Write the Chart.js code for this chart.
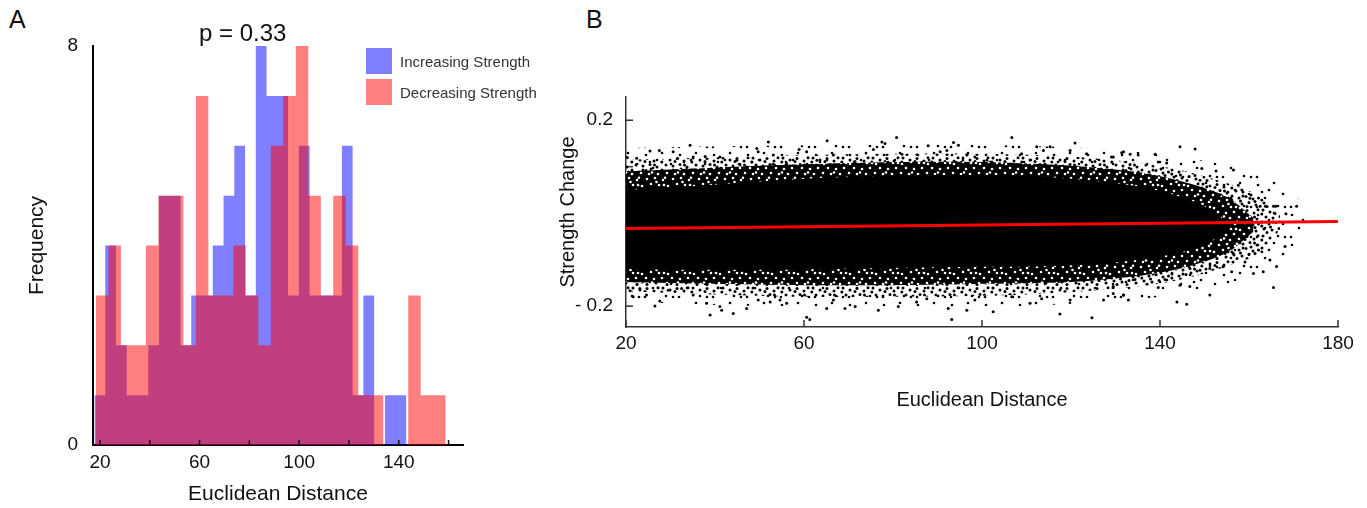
<!DOCTYPE html>
<html>
<head>
<meta charset="utf-8">
<title>Strength change vs Euclidean distance</title>
<script src="https://cdn.jsdelivr.net/npm/chart.js@4.4.1/dist/chart.umd.min.js"></script>
<style>
  html, body { margin: 0; padding: 0; background: #fff; }
  body { position: relative; width: 1367px; height: 508px; overflow: hidden;
         font-family: 'Liberation Sans', Arial, sans-serif; color: #111; }
  .tag { position: absolute; font-size: 25px; line-height: 25px; }
  #histBox { position: absolute; left: 0; top: 0; width: 540px; height: 508px; }
  #scatterBox { position: absolute; left: 540px; top: 0; width: 827px; height: 508px; }
  #pValue { position: absolute; left: 199px; top: 21px; font-size: 24px; line-height: 24px; }
  #histLegend { position: absolute; left: 366px; top: 48px; }
  .legend-item { display: flex; align-items: center; height: 26px; margin-bottom: 5px;
                 font-size: 15px; color: #333; }
  .legend-swatch { width: 26px; height: 26px; margin-right: 8px; }
</style>
</head>
<body>
<div class="tag" style="left:9px; top:7px;">A</div>
<div class="tag" style="left:586px; top:7px;">B</div>
<div id="histBox"><canvas id="hist" width="540" height="508"></canvas></div>
<div id="scatterBox"><canvas id="scatter" width="827" height="508"></canvas></div>
<div id="pValue">p = 0.33</div>
<div id="histLegend"></div>
<script>
// ---- panel A: histograms (bin edges) ----
const incLabel = 'Increasing Strength';
const decLabel = 'Decreasing Strength';
const incEdges = [17.79, 22.11, 26.43, 30.75, 35.07, 39.39, 43.71, 48.03, 52.35, 56.67,
                  60.99, 65.31, 69.63, 73.95, 78.27, 82.59, 86.91, 91.23, 95.55, 99.87,
                  104.19, 108.51, 112.83, 117.15, 121.47, 125.79, 130.11, 134.43, 138.75, 143.07];
const incCounts = [1, 4, 2, 1, 1, 2, 5, 5, 2, 3,
                   3, 4, 5, 6, 3, 8, 7, 7, 3, 6,
                   3, 3, 3, 6, 1, 3, 0, 1, 1];
const decEdges = [18.39, 23.41, 28.42, 33.44, 38.45, 43.47, 48.49, 53.50, 58.52, 63.53,
                  68.55, 73.57, 78.58, 83.60, 88.61, 93.63, 98.65, 103.66, 108.68, 113.69,
                  118.71, 123.73, 128.74, 133.76, 138.77, 143.79, 148.81, 153.82, 158.84];
const decCounts = [3, 4, 2, 2, 4, 5, 5, 2, 7, 3,
                   3, 4, 3, 2, 6, 7, 8, 5, 3, 5,
                   4, 1, 1, 0, 0, 3, 1, 1];
const histXTicks = [20, 40, 60, 80, 100, 120, 140, 160];
const histXLabels = ['20', '', '60', '', '100', '', '140', ''];
const histYTicks = [0, 8];

// ---- panel B: strength change vs distance ----
const scatterXTicks = [20, 60, 100, 140, 180];
const scatterYTicks = [-0.2, -0.1, 0, 0.1, 0.2];
const scatterYLabels = ['- 0.2', '', '', '', '0.2'];
const fitX = [20, 180];
const fitY = [-0.033, -0.018];

// solid core of the point cloud (upper / lower edge)
const coreX = [20, 35, 50, 65, 80, 95, 110, 125, 135, 143, 150, 156];
const coreTop = [0.050, 0.058, 0.068, 0.076, 0.080, 0.082, 0.080, 0.070, 0.058, 0.040, 0.015, -0.025];
const coreBottom = [-0.120, -0.122, -0.122, -0.120, -0.118, -0.116, -0.115, -0.110, -0.100, -0.088, -0.068, -0.030];
// nearly black zone with small gaps
const packedX = [20, 40, 60, 80, 100, 120, 135, 145, 155, 161];
const packedTop = [0.090, 0.098, 0.105, 0.110, 0.110, 0.102, 0.088, 0.068, 0.035, -0.010];
const packedBottom = [-0.148, -0.152, -0.155, -0.155, -0.152, -0.148, -0.135, -0.118, -0.085, -0.040];
// dense speckled rim
const denseX = [20, 40, 60, 80, 100, 120, 135, 145, 155, 162, 167];
const denseTop = [0.115, 0.120, 0.125, 0.128, 0.128, 0.122, 0.108, 0.092, 0.065, 0.038, -0.005];
const denseBottom = [-0.168, -0.175, -0.180, -0.180, -0.178, -0.170, -0.158, -0.142, -0.115, -0.088, -0.035];
// thin outer rim
const sparseX = [20, 50, 80, 110, 135, 150, 160, 168, 173];
const sparseTop = [0.140, 0.145, 0.148, 0.145, 0.132, 0.112, 0.092, 0.058, 0.012];
const sparseBottom = [-0.190, -0.200, -0.203, -0.200, -0.185, -0.165, -0.135, -0.098, -0.032];
// isolated points outside the cloud
const strayPoints = [
  [20.3, 0.120], [22.4, 0.118], [25.4, 0.134], [27.5, 0.135], [30.6, 0.132], [31.6, 0.118], [34.4, 0.146],
  [35.1, 0.121], [37.8, 0.122], [41.1, 0.121], [44.9, 0.114], [49.4, 0.139], [49.7, 0.132], [52.0, 0.153],
  [53.1, 0.125], [56.1, 0.107], [58.9, 0.137], [60.6, 0.132], [62.9, 0.114], [65.2, 0.156], [66.6, 0.125],
  [20.9, -0.167], [21.6, -0.180], [23.1, -0.162], [24.6, -0.176], [26.5, -0.200], [27.6, -0.189],
  [29.5, -0.166], [32.5, -0.162], [35.1, -0.176], [38.1, -0.194], [38.9, -0.219], [41.1, -0.201],
  [41.5, -0.209], [44.1, -0.216], [47.1, -0.205], [49.7, -0.187], [52.4, -0.191], [54.6, -0.187],
  [56.1, -0.194], [60.6, -0.224], [61.3, -0.229], [65.1, -0.205], [66.6, -0.187],
  [75.6, 0.137], [77.5, 0.153], [78.2, 0.150], [80.8, 0.163], [82.0, 0.127], [87.9, 0.145], [90.6, 0.132],
  [92.1, 0.135], [93.6, 0.152], [94.7, 0.146], [96.6, 0.125], [98.4, 0.121], [101.1, 0.114], [106.7, 0.163],
  [108.9, 0.128], [112.3, 0.143], [113.8, 0.135], [115.3, 0.143], [119.8, 0.135], [120.9, 0.151],
  [123.5, 0.128], [129.1, 0.121], [131.8, 0.132],
  [69.2, -0.205], [71.5, -0.201], [76.7, -0.209], [81.2, -0.201], [85.3, -0.191], [87.6, -0.184],
  [92.4, -0.205], [93.2, -0.229], [96.6, -0.209], [98.4, -0.187], [102.5, -0.212], [106.7, -0.180],
  [110.8, -0.194], [113.4, -0.184], [117.5, -0.217], [119.8, -0.187], [124.7, -0.225], [127.3, -0.187],
  [129.5, -0.158], [131.8, -0.176],
  [129.5, 0.121], [131.4, 0.130], [133.3, 0.127], [135.1, 0.125], [138.9, 0.127], [139.6, 0.110],
  [141.5, 0.108], [144.5, 0.143], [147.9, 0.138], [149.4, 0.096], [152.6, 0.091], [156.5, 0.093],
  [149.0, 0.071], [150.5, 0.057], [153.5, 0.039], [157.6, 0.060], [158.4, 0.050], [160.2, 0.032],
  [162.5, 0.015], [163.7, 0.015], [165.5, 0.015], [166.0, 0.015], [170.7, 0.015], [168.3, -0.001],
  [129.5, -0.173], [131.8, -0.176], [132.9, -0.187], [139.6, -0.160], [143.8, -0.191], [144.5, -0.155],
  [146.0, -0.196], [146.7, -0.158], [149.0, -0.123], [151.2, -0.176], [151.2, -0.119], [154.2, -0.115],
  [156.1, -0.126], [156.5, -0.087], [159.1, -0.105], [161.0, -0.130], [163.2, -0.126], [164.7, -0.101],
  [165.5, -0.160], [166.2, -0.115], [168.1, -0.072]
];

const fontFamily = "'Liberation Sans', Arial, sans-serif";
Chart.defaults.font.family = fontFamily;
Chart.defaults.color = '#111';

// small tick marks pointing into the plot area
function drawInnerTicks(chart, opts) {
    const ctx = chart.ctx;
    ctx.save();
    ctx.strokeStyle = opts.color;
    ctx.lineWidth = opts.width;
    opts.axes.forEach(id => {
        const scale = chart.scales[id];
        scale.ticks.forEach(t => {
            const p = scale.getPixelForValue(t.value);
            ctx.beginPath();
            if (scale.isHorizontal()) {
                ctx.moveTo(p, scale.top);
                ctx.lineTo(p, scale.top - opts.length);
            } else {
                ctx.moveTo(scale.right, p);
                ctx.lineTo(scale.right + opts.length, p);
            }
            ctx.stroke();
        });
    });
    ctx.restore();
}

const innerTicks = {
    id: 'innerTicks',
    beforeDatasetsDraw(chart, args, opts) { if (opts.under) drawInnerTicks(chart, opts); },
    afterDatasetsDraw(chart, args, opts) { if (!opts.under) drawInnerTicks(chart, opts); }
};

const fixedTicks = values => scale => { scale.ticks = values.map(v => ({ value: v })); };

// a histogram as one filled step outline: count i holds from edge i to edge i+1
function histSteps(edges, counts) {
    return edges.map((x, i) => ({ x, y: counts[Math.min(i, counts.length - 1)] }));
}

// ---- Histogram ----
const histChart = new Chart(document.getElementById('hist'), {
    type: 'line',
    data: {
        datasets: [
            {
                label: incLabel,
                data: histSteps(incEdges, incCounts),
                backgroundColor: 'rgba(0, 0, 255, 0.5)',
                order: 2
            },
            {
                label: decLabel,
                data: histSteps(decEdges, decCounts),
                backgroundColor: 'rgba(255, 0, 0, 0.5)',
                order: 1
            }
        ]
    },
    options: {
        responsive: false,
        animation: false,
        datasets: {
            line: {
                stepped: 'before',
                fill: 'origin',
                borderColor: 'rgba(0, 0, 0, 0)',
                borderWidth: 0,
                pointRadius: 0,
                pointHoverRadius: 0
            }
        },
        layout: { padding: { left: 0, right: 77, top: 46, bottom: 0 } },
        plugins: {
            legend: { display: false },
            tooltip: { enabled: false },
            innerTicks: { axes: ['x'], length: 5, width: 1.5, color: '#111', under: false }
        },
        scales: {
            x: {
                type: 'linear', min: 17.2, max: 165.8,
                afterBuildTicks: fixedTicks(histXTicks),
                afterFit: s => { s.height = 63; },
                grid: { display: false, drawTicks: false },
                border: { color: '#000', width: 2 },
                ticks: {
                    padding: 6, autoSkip: false, maxRotation: 0,
                    font: { size: 19 },
                    callback: (v, i) => histXLabels[i]
                },
                title: { display: true, text: 'Euclidean Distance', font: { size: 21 }, padding: { top: 0, bottom: 1 } }
            },
            y: {
                min: 0, max: 8,
                afterBuildTicks: fixedTicks(histYTicks),
                afterFit: s => { s.width = 93; },
                grid: { display: false, drawTicks: false },
                border: { color: '#000', width: 2 },
                ticks: { padding: 15, font: { size: 19 } },
                title: { display: true, text: 'Frequency', font: { size: 21 }, padding: { top: 25, bottom: 0 } }
            }
        }
    },
    plugins: [innerTicks]
});

// legend built from the histogram datasets
const legendBox = document.getElementById('histLegend');
histChart.data.datasets.forEach(ds => {
    const item = document.createElement('div');
    item.className = 'legend-item';
    const swatch = document.createElement('span');
    swatch.className = 'legend-swatch';
    swatch.style.background = ds.backgroundColor;
    const text = document.createElement('span');
    text.textContent = ds.label;
    item.append(swatch, text);
    legendBox.appendChild(item);
});

// ---- Scatter ----
const scatterCanvas = document.getElementById('scatter');

// dotted fills used for the speckled zones of the cloud
function dotPattern(w, h, dots, r, dotColor, bgColor) {
    const tile = document.createElement('canvas');
    tile.width = w;
    tile.height = h;
    const g = tile.getContext('2d');
    if (bgColor) {
        g.fillStyle = bgColor;
        g.fillRect(0, 0, w, h);
    }
    g.fillStyle = dotColor;
    dots.forEach(([x, y]) => {
        g.beginPath();
        g.arc(x, y, r, 0, Math.PI * 2);
        g.fill();
    });
    return scatterCanvas.getContext('2d').createPattern(tile, 'repeat');
}

const packedPattern = dotPattern(26, 22, [
    [3, 3], [11, 2], [19, 4], [24, 10], [7, 8], [15, 9], [2, 14], [10, 15], [18, 14], [23, 19],
    [5, 20], [14, 20], [21, 1.8], [12.5, 6], [8, 18.5], [20, 9]
], 1.3, '#fff', '#000');
const densePattern = dotPattern(30, 26, [
    [3, 2], [10, 4], [17, 2.5], [24, 5], [28, 1.8], [6, 9], [13, 10], [20, 8.5], [27, 11], [2, 14],
    [9, 16], [16, 14.5], [23, 17], [4, 21], [12, 22], [19, 20.5], [26, 23], [28.5, 16], [7, 24.5],
    [15, 5.5], [21, 13], [1.8, 6], [10.5, 19], [25, 19.5], [17, 24.5], [1.8, 18], [13, 14], [24.5, 9]
], 1.5, '#000');
const sparsePattern = dotPattern(34, 30, [
    [4, 5], [20, 3], [29, 14], [11, 18], [24, 26], [3, 27], [15, 10], [31, 27], [8, 12]
], 1.3, '#000');

function edge(xs, ys, fill, color) {
    return {
        type: 'line',
        data: xs.map((x, i) => ({ x, y: ys[i] })),
        borderColor: 'rgba(0, 0, 0, 0)',
        borderWidth: 0,
        pointRadius: 0,
        tension: 0.3,
        fill: fill,
        backgroundColor: color
    };
}

new Chart(scatterCanvas, {
    type: 'scatter',
    data: {
        datasets: [
            {
                type: 'line',
                data: fitX.map((x, i) => ({ x, y: fitY[i] })),
                borderColor: '#ff0000',
                borderWidth: 3,
                pointRadius: 0,
                fill: false
            },
            {
                type: 'scatter',
                data: strayPoints.map(([x, y]) => ({ x, y })),
                pointRadius: 1.5,
                pointHoverRadius: 1.5,
                pointBackgroundColor: '#000',
                pointBorderWidth: 0
            },
            edge(coreX, coreTop, false),
            edge(coreX, coreBottom, '-1', '#000'),
            edge(packedX, packedTop, false),
            edge(packedX, packedBottom, '-1', packedPattern),
            edge(denseX, denseTop, false),
            edge(denseX, denseBottom, '-1', densePattern),
            edge(sparseX, sparseTop, false),
            edge(sparseX, sparseBottom, '-1', sparsePattern)
        ]
    },
    options: {
        responsive: false,
        animation: false,
        layout: { padding: { left: 0, right: 29, top: 97, bottom: 0 } },
        plugins: {
            legend: { display: false },
            tooltip: { enabled: false },
            innerTicks: { axes: ['x', 'y'], length: 7, width: 1.5, color: '#333', under: true }
        },
        scales: {
            x: {
                type: 'linear', min: 20, max: 180,
                afterBuildTicks: fixedTicks(scatterXTicks),
                afterFit: s => { s.height = 181; },
                grid: { display: false, drawTicks: false },
                border: { color: '#333', width: 1.5 },
                ticks: { padding: 5, autoSkip: false, maxRotation: 0, font: { size: 19 } },
                title: { display: true, text: 'Euclidean Distance', font: { size: 20 }, padding: { top: 0, bottom: 96 } }
            },
            y: {
                type: 'linear', min: -0.245, max: 0.25,
                afterBuildTicks: fixedTicks(scatterYTicks),
                afterFit: s => { s.width = 86; },
                grid: { display: false, drawTicks: false },
                border: { color: '#333', width: 1.5 },
                ticks: { padding: 13, font: { size: 19 }, callback: (v, i) => scatterYLabels[i] },
                title: { display: true, text: 'Strength Change', font: { size: 20 }, padding: { top: 16, bottom: 0 } }
            }
        }
    },
    plugins: [innerTicks]
});
</script>
</body>
</html>
